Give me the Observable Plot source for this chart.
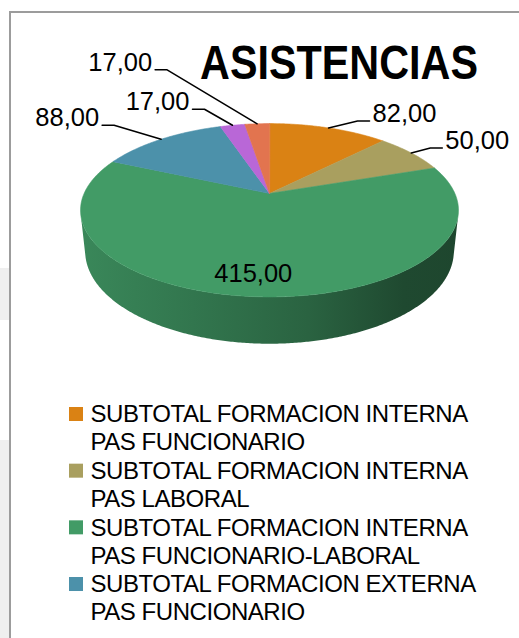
<!DOCTYPE html>
<html><head><meta charset="utf-8">
<script src="https://cdn.jsdelivr.net/npm/d3@7"></script>
<script src="https://cdn.jsdelivr.net/npm/@observablehq/plot@0.6"></script>
<style>
html,body{margin:0;padding:0;background:#fff;}
#wrap{position:relative;width:519px;height:638px;overflow:hidden;}
.patch{position:absolute;left:0;width:9px;background:#efefef;}
#frame{position:absolute;left:9px;top:11px;width:560px;height:700px;border-left:2px solid #9c9c9c;border-top:2px solid #9c9c9c;}
#chart{position:absolute;left:0;top:0;}
</style></head><body>
<div id="wrap">
<div class="patch" style="top:268px;height:52px"></div>
<div class="patch" style="top:440px;height:198px"></div>
<div id="frame"></div>
<div id="chart"></div>
</div>
<script>
// ---- data ----
const categories = [
  "SUBTOTAL FORMACION INTERNA PAS FUNCIONARIO",
  "SUBTOTAL FORMACION INTERNA PAS LABORAL",
  "SUBTOTAL FORMACION INTERNA PAS FUNCIONARIO-LABORAL",
  "SUBTOTAL FORMACION EXTERNA PAS FUNCIONARIO",
  "SUBTOTAL FORMACION EXTERNA PAS LABORAL",
  "SUBTOTAL FORMACION EXTERNA PAS FUNCIONARIO-LABORAL"
];
const values = [82, 50, 415, 88, 17, 17];
const colors = ["#DA8214", "#A99F5F", "#429B66", "#4C91AA", "#B967D7", "#E2744F"];
const titleText = "ASISTENCIAS";
const legendShown = 4; // the reference legend box only shows the first four entries

// ---- layout (not data) ----
const labelPlacement = ["outside", "outside", "inside", "outside", "outside", "outside"];
const labelOffsets = [[29, -7], [19, -5], [-8, 1], [-47, -14], [-28, -16], [-90, -54]];

const W = 519, H = 638;
const cx = 269, cy = 193, f = 856, dist = 4.617, sinE = 0.45, cosE = Math.sqrt(1 - sinE * sinE), thick = 0.25;
function proj(thetaDeg, r, h) {
  const t = thetaDeg * Math.PI / 180;
  const X = r * Math.sin(t), Z = -r * Math.cos(t);
  const depth = dist - (h * sinE + Z * cosE);
  return [cx + f * X / depth, cy + f * (Z * sinE - h * cosE) / depth];
}
const fmt = v => v.toFixed(2).replace(".", ",");

const arcs = d3.pie().sort(null).value(d => d)(values).map((a, i) => ({
  i, a0: a.startAngle * 180 / Math.PI, a1: a.endAngle * 180 / Math.PI
}));

function arcPts(a0, a1, r, h) {
  const n = Math.max(2, Math.ceil((a1 - a0) / 0.5));
  const pts = [];
  for (let k = 0; k <= n; k++) pts.push(proj(a0 + (a1 - a0) * k / n, r, h));
  return pts;
}

// visible side range
const kVis = 1 / (dist * cosE);
const sA = Math.acos(-kVis) * 180 / Math.PI, sB = 360 - sA;

const marks = [];
// side walls
for (const s of arcs) {
  const a0 = Math.max(s.a0, sA), a1 = Math.min(s.a1, sB);
  if (a1 <= a0) continue;
  const top = arcPts(a0, a1, 1, 0);
  const bot = arcPts(a0, a1, 1, -thick).reverse();
  const poly = top.concat(bot).map(([x, y]) => ({x, y}));
  marks.push(Plot.line(poly, {x: "x", y: "y", curve: "linear-closed", fill: "url(#sideGrad" + s.i + ")", stroke: "none"}));
}
// top faces
for (const s of arcs) {
  const poly = [proj(0, 0, 0)].concat(arcPts(s.a0, s.a1, 1, 0)).map(([x, y]) => ({x, y}));
  marks.push(Plot.line(poly, {x: "x", y: "y", curve: "linear-closed", fill: colors[s.i], stroke: colors[s.i], strokeWidth: 0.6}));
}
// labels
const leaderPts = [];
const labelRows = [];
for (const s of arcs) {
  const mid = (s.a0 + s.a1) / 2;
  const [dx, dy] = labelOffsets[s.i];
  if (labelPlacement[s.i] === "inside") {
    const [px, py] = proj(mid, 0.8, 0);
    labelRows.push({x: px + dx, y: py + dy, text: fmt(values[s.i]), anchor: "middle"});
  } else {
    const [ax, ay] = proj(mid, 1, 0);
    const ex = ax + dx, ey = ay + dy;
    const dir = dx > 0 ? 1 : -1;
    const tx = ex + dir * 12;
    leaderPts.push({k: s.i, x: ax, y: ay}, {k: s.i, x: ex, y: ey}, {k: s.i, x: tx, y: ey});
    labelRows.push({x: tx + dir * 3, y: ey - 7, text: fmt(values[s.i]), anchor: dir > 0 ? "start" : "end"});
  }
}
marks.push(Plot.line(leaderPts, {x: "x", y: "y", z: "k", stroke: "#000", strokeWidth: 1.5}));
const FONT = "'Liberation Sans', Arial, sans-serif";
for (const anchor of ["start", "end", "middle"]) {
  marks.push(Plot.text(labelRows.filter(d => d.anchor === anchor), {
    x: "x", y: "y", text: "text", textAnchor: anchor, lineAnchor: "middle",
    fontSize: 25.5, fill: "#000", fontFamily: FONT
  }));
}
// title, horizontally condensed to the reference's narrow bold face
const cv = document.createElement("canvas").getContext("2d");
cv.font = "bold 49px " + FONT;
const titleNatural = cv.measureText(titleText).width;
const titleScale = 278 / titleNatural;
marks.push(Plot.text([titleText], {x: () => 339, y: () => 63, text: d => d, fontSize: 49, fontWeight: "bold",
  fontFamily: FONT, textAnchor: "middle", lineAnchor: "middle", fill: "#000", className: "ttl"}));
// legend
const legX = 69, legY = 407, legStep = 56.67, sq = 14, lineH = 28.3;
const legCats = categories.slice(0, legendShown);
const legRects = legCats.map((c, i) => ({x1: legX, x2: legX + sq, y1: legY + i * legStep, y2: legY + i * legStep + sq, color: colors[i]}));
const legText = [];
legCats.forEach((c, i) => {
  const j = c.indexOf(" PAS ");
  const lines = [c.slice(0, j), c.slice(j + 1)];
  lines.forEach((t, l) => legText.push({x: legX + sq + 7, y: legY + i * legStep + sq / 2 + l * lineH, text: t}));
});
marks.push(Plot.rect(legRects, {x1: "x1", x2: "x2", y1: "y1", y2: "y2", fill: d => d.color}));
marks.push(Plot.text(legText, {x: "x", y: "y", text: "text", textAnchor: "start", lineAnchor: "middle",
  fontSize: 24, fontFamily: FONT, fill: "#000", className: "leg"}));

const chart = Plot.plot({
  width: W, height: H, margin: 0,
  x: {domain: [0, W], range: [0, W], axis: null},
  y: {domain: [0, H], range: [0, H], axis: null},
  color: {type: "identity"},
  style: {background: "transparent", overflow: "visible"},
  marks
});
// gradients for the side
const ns = "http://www.w3.org/2000/svg";
const defs = document.createElementNS(ns, "defs");
arcs.forEach(s => {
  const base = d3.color(colors[s.i]);
  const g = document.createElementNS(ns, "linearGradient");
  g.setAttribute("id", "sideGrad" + s.i);
  g.setAttribute("gradientUnits", "userSpaceOnUse");
  g.setAttribute("x1", cx - 192); g.setAttribute("x2", cx + 192);
  g.setAttribute("y1", 0); g.setAttribute("y2", 0);
  [[0, 0.88], [0.3, 0.76], [0.6, 0.64], [0.85, 0.47], [1, 0.45]].forEach(([o, k]) => {
    const st = document.createElementNS(ns, "stop");
    st.setAttribute("offset", o);
    const c = d3.rgb(base.r * k, base.g * k, base.b * k);
    st.setAttribute("stop-color", c.formatHex());
    g.appendChild(st);
  });
  defs.appendChild(g);
});
chart.insertBefore(defs, chart.firstChild);
document.getElementById("chart").appendChild(chart);
const tg = chart.querySelector(".ttl");
if (tg) {
  tg.setAttribute("transform", `translate(339,0) scale(${titleScale.toFixed(4)},1) translate(-339,0)`);
}
chart.querySelectorAll(".leg text").forEach(t => t.style.letterSpacing = "-0.45px");
</script>
</body></html>
